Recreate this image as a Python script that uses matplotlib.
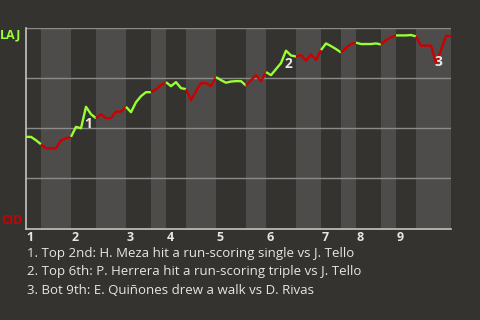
import matplotlib
matplotlib.use("Agg")
import matplotlib.pyplot as plt
from matplotlib.transforms import blended_transform_factory

plt.rcParams['font.family'] = ['Open Sans', 'DejaVu Sans']

# plate appearances in each half-inning (top 1st, bot 1st, top 2nd, ...)
half_pa = [3, 6, 5, 6, 5, 3, 4, 6, 6, 4, 6, 5, 4, 3, 5, 3, 4, 7]

# LAJ win probability after each plate appearance (index 0 = first pitch)
wp = [0.457, 0.457, 0.44, 0.42,
      0.40, 0.40, 0.40, 0.44, 0.45, 0.457,
      0.507, 0.50, 0.607, 0.57, 0.55,
      0.57, 0.55, 0.55, 0.583, 0.583, 0.607,
      0.58, 0.63, 0.66, 0.68, 0.68,
      0.695, 0.715, 0.73,
      0.71, 0.73, 0.70, 0.695,
      0.64, 0.685, 0.725, 0.725, 0.71, 0.755,
      0.74, 0.727, 0.733, 0.735, 0.735, 0.713,
      0.74, 0.765, 0.735, 0.78,
      0.765, 0.795, 0.825, 0.887, 0.863, 0.858,
      0.865, 0.837, 0.868, 0.84, 0.89,
      0.923, 0.91, 0.895, 0.878,
      0.90, 0.92, 0.927,
      0.92, 0.92, 0.92, 0.923, 0.918,
      0.94, 0.953, 0.963,
      0.963, 0.963, 0.965, 0.958,
      0.912, 0.912, 0.912, 0.825, 0.89, 0.96, 0.96]

# key plays: (label, x, y)
key_labels = ["1", "2", "3"]
key_x = [12.4, 52.4, 82.4]
key_y = [0.52, 0.82, 0.83]

notes = [
    "1. Top 2nd: H. Meza hit a run-scoring single vs J. Tello",
    "2. Top 6th: P. Herrera hit a run-scoring triple vs J. Tello",
    "3. Bot 9th: E. Quiñones drew a walk vs D. Rivas",
]

away, home = "LAJ", "CID"

BG = "#353330"
BAND = "#4d4c4a"
GREEN = "#99ff33"
RED = "#cc0000"
GRID = "#8a8a88"
AXIS = "#c4c4c2"
TEXT = "#e6e6e6"

fig = plt.figure(figsize=(4.8, 3.2), dpi=100, facecolor=BG)
ax = fig.add_axes([26 / 480, 1 - 228.5 / 320, 425 / 480, 200.5 / 320])
ax.set_facecolor(BG)

total = sum(half_pa)
ax.set_xlim(0, total)
ax.set_ylim(0, 1)

# half-inning bands and coloured line pieces
trans = blended_transform_factory(ax.transData, ax.transAxes)
start = 0
for h, n in enumerate(half_pa):
    end = start + n
    if h % 2 == 1:
        ax.axvspan(start, end, color=BAND, lw=0, zorder=0)
    xs = list(range(start, end + 1))
    ax.plot(xs, wp[start:end + 1], color=GREEN if h % 2 == 0 else RED,
            lw=1.7, zorder=3, solid_capstyle="butt")
    if h % 2 == 0:
        ax.text(start + 0.1, -0.045, str(h // 2 + 1), transform=trans,
                ha="left", va="center", color=TEXT, fontsize=9,
                fontweight="bold")
    start = end

for y in [0.25, 0.5, 0.75, 1.0]:
    ax.axhline(y, color=GRID, lw=1, zorder=1)

for lab, x, y in zip(key_labels, key_x, key_y):
    ax.text(x, y, lab, ha="center", va="center", color=TEXT, fontsize=10,
            fontweight="bold", zorder=4)

for s in ["top", "right"]:
    ax.spines[s].set_visible(False)
for s in ["left", "bottom"]:
    ax.spines[s].set_color(AXIS)
    ax.spines[s].set_linewidth(1.2)
ax.set_xticks([])
ax.set_yticks([])

fig.text(21 / 480, 1 - 35 / 320, away, ha="right", va="center",
         color=GREEN, fontsize=9, fontweight="bold")
fig.text(23 / 480, 1 - 220 / 320, home, ha="right", va="center",
         color=RED, fontsize=9, fontweight="bold")

for k, line in enumerate(notes):
    fig.text(27 / 480, 1 - (253 + 18.5 * k) / 320, line, ha="left",
             va="center", color=TEXT, fontsize=9.5)

fig.savefig("out.png", dpi=100, facecolor=BG)
